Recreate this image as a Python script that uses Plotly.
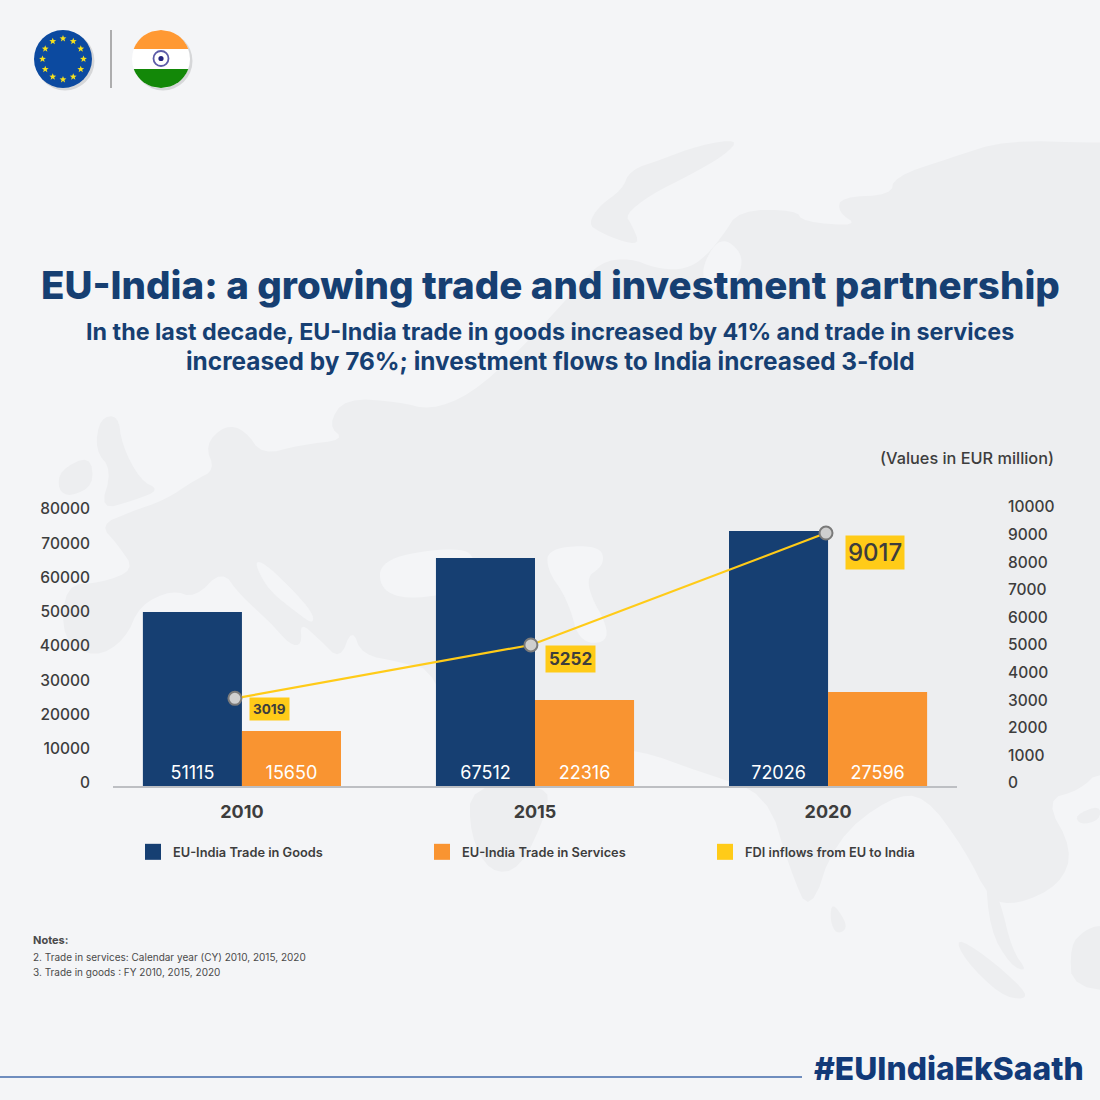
import numpy as np
import plotly.graph_objects as go

# ---- data ----
years = ["2010", "2015", "2020"]
slots = [0, 1, 2]
goods_labels = [51115, 67512, 72026]
services_labels = [15650, 22316, 27596]
fdi_labels = [3019, 5252, 9017]
# heights as actually drawn in the reference
goods_drawn = [50800, 66570, 74450]
services_drawn = [16050, 25100, 27450]
fdi_drawn = [3030, 4965, 9020]
fdi_slots = [-0.024, 0.986, 1.993]
left_ticks = [0, 10000, 20000, 30000, 40000, 50000, 60000, 70000, 80000]
right_ticks = [0, 1000, 2000, 3000, 4000, 5000, 6000, 7000, 8000, 9000, 10000]

series_names = ["EU-India Trade in Goods", "EU-India Trade in Services", "FDI inflows from EU to India"]
title = "EU-India: a growing trade and investment partnership"
subtitle_1 = "In the last decade, EU-India trade in goods increased by 41% and trade in services"
subtitle_2 = "increased by 76%; investment flows to India increased 3-fold"
notes_head = "<b>Notes:</b>"
note_1 = "2. Trade in services: Calendar year (CY) 2010, 2015, 2020"
note_2 = "3. Trade in goods : FY 2010, 2015, 2020"

NAVY = "#163F72"
ORANGE = "#F99431"
YELLOW = "#FFCB18"
INK = "#3D3D3D"
BG = "#F4F5F7"
LAND = "#EDEEF0"
FONT = "Inter"


def px(x):
    return x / 1100


def py(y):
    return 1 - y / 1100


def smooth(points, rounds=2):
    """round off the corners of a closed outline"""
    pts = list(points)
    for _ in range(rounds):
        out = []
        for i, (x0, y0) in enumerate(pts):
            x1, y1 = pts[(i + 1) % len(pts)]
            out.append((0.75 * x0 + 0.25 * x1, 0.75 * y0 + 0.25 * y1))
            out.append((0.25 * x0 + 0.75 * x1, 0.25 * y0 + 0.75 * y1))
        pts = out
    return pts


def poly(points, fill, line=None, width=0, layer="below"):
    d = "M" + " L".join(f"{px(x):.5f},{py(y):.5f}" for x, y in points) + " Z"
    return dict(type="path", xref="paper", yref="paper", path=d, fillcolor=fill, layer=layer,
                line=dict(color=line or fill, width=width))


def circle(cx, cy, r, fill, line=None, width=0, opacity=1):
    return dict(type="circle", xref="paper", yref="paper", x0=px(cx - r), x1=px(cx + r),
                y0=py(cy + r), y1=py(cy - r), fillcolor=fill, opacity=opacity, layer="below",
                line=dict(color=line or fill, width=width))


def band(cx, cy, r, y0, y1):
    """part of a disc between two horizontal lines"""
    ys = np.linspace(y0, y1, 14)
    right = [(cx + np.sqrt(max(r**2 - (y - cy) ** 2, 0)), y) for y in ys]
    left = [(cx - np.sqrt(max(r**2 - (y - cy) ** 2, 0)), y) for y in ys[::-1]]
    return right + left


def star(cx, cy, r):
    pts = []
    for i in range(10):
        a = -np.pi / 2 + i * np.pi / 5
        rr = r if i % 2 == 0 else r * 0.42
        pts.append((cx + rr * np.cos(a), cy + rr * np.sin(a)))
    return pts


shapes = []

# faint world map behind everything (decoration)
land = [
    # Scandinavia
    [(739, 139), (700, 145), (660, 160), (630, 170), (622, 190), (600, 205), (588, 224), (600, 232), (618, 240), (640, 245), (632, 225), (625, 215), (650, 195), (690, 175), (725, 155)],
    # Eurasia, clockwise from the north-east corner
    [(1250, 143), (1100, 143), (1006, 140), (950, 158), (894, 177), (891, 195), (841, 197), (838, 212), (859, 226), (803, 222), (796, 210), (739, 210), (722, 237), (700, 262), (680, 270), (655, 268), (630, 258), (600, 262), (575, 290),
     (520, 350), (470, 395), (430, 410), (400, 402), (345, 398), (328, 425), (345, 440), (300, 445), (262, 455), (245, 430), (225, 425), (205, 445), (215, 470), (195, 480), (165, 500), (130, 512), (100, 525), (118, 545), (135, 570), (100, 583), (65, 585), (62, 640), (95, 658), (125, 640), (140, 605), (172, 590), (195, 598), (222, 570),
     (240, 595), (270, 622), (290, 645), (302, 645), (300, 622), (320, 640), (340, 660), (352, 628), (362, 655), (400, 662), (437, 672), (470, 790), (547, 790), (570, 745), (640, 750), (700, 772), (767, 793), (790, 870), (810, 915), (835, 840), (890, 797), (925, 795), (965, 850), (990, 900), (1017, 905), (1060, 885), (1073, 850), (1045, 800), (1080, 790), (1100, 770), (1250, 770)],
    # Arabia
    [(470, 785), (547, 785), (548, 810), (520, 870), (490, 873), (470, 835)],
    # Great Britain
    [(100, 418), (118, 415), (122, 445), (140, 480), (160, 490), (135, 500), (100, 510), (112, 470), (95, 450)],
    # Ireland
    [(60, 470), (90, 455), (94, 485), (70, 497), (58, 490)],
    # Sri Lanka
    [(832, 902), (845, 920), (846, 930), (836, 934), (830, 920)],
    # Sumatra
    [(955, 937), (985, 955), (1025, 990), (1025, 1000), (1000, 995), (965, 960)],
    # Malay peninsula
    [(985, 870), (1000, 900), (1012, 950), (1028, 972), (1010, 965), (990, 930)],
    # Islands, lower right
    [(1070, 945), (1085, 930), (1100, 925), (1150, 925), (1150, 990), (1072, 990)],
    [(1075, 815), (1100, 805), (1100, 820), (1080, 825)],
]
for p in land:
    shapes.append(poly(smooth(p), LAND))
# inland seas, painted over the land
seas = [
    [(253, 560), (268, 565), (312, 610), (314, 625), (296, 612), (268, 590)],                  # Adriatic
    [(380, 560), (440, 548), (478, 552), (465, 590), (410, 600), (380, 590)],                  # Black Sea
    [(548, 548), (600, 545), (605, 565), (582, 580), (615, 640), (580, 645), (568, 600), (547, 570)],  # Caspian
    [(700, 270), (720, 235), (745, 255), (735, 285), (710, 290)],                              # Gulf of Ob
]
for p in seas:
    shapes.append(poly(smooth(p, 3), BG))

# EU flag
shapes.append(circle(65, 61, 29.5, "#000000", opacity=0.12))
shapes.append(circle(63, 59, 29, "#0C4AA0"))
for i in range(12):
    a = i * np.pi / 6
    shapes.append(poly(star(63 + 20.5 * np.sin(a), 59 - 20.5 * np.cos(a), 3.6), "#F7E11C"))
# divider
shapes.append(dict(type="line", xref="paper", yref="paper", x0=px(111), x1=px(111), y0=py(30), y1=py(88),
                   layer="below", line=dict(color="#9B9B9B", width=1.6)))
# India flag
shapes.append(circle(163, 61, 29.5, "#000000", opacity=0.12))
shapes.append(circle(161, 59, 29, "#FFFFFF"))
shapes.append(poly(band(161, 59, 29, 30, 49), "#FF9933"))
shapes.append(poly(band(161, 59, 29, 69, 88), "#138808"))
shapes.append(circle(161, 58.5, 7.5, "#FFFFFF", "#5C5CA8", 1.8))
shapes.append(circle(161, 58.5, 2.6, "#24247E"))

# footer rule
shapes.append(dict(type="line", xref="paper", yref="paper", x0=0, x1=px(802), y0=py(1077), y1=py(1077),
                   layer="below", line=dict(color="#6F8DBE", width=2)))

fig = go.Figure()
fig.add_trace(go.Bar(x=slots, y=goods_drawn, name=series_names[0], marker=dict(color=NAVY, line=dict(width=0)),
                     text=goods_labels, textposition="inside", insidetextanchor="start", textangle=0,
                     insidetextfont=dict(color="white", size=18, family=FONT), showlegend=False))
fig.add_trace(go.Bar(x=slots, y=services_drawn, name=series_names[1], marker=dict(color=ORANGE, line=dict(width=0)),
                     text=services_labels, textposition="inside", insidetextanchor="start", textangle=0,
                     insidetextfont=dict(color="white", size=18, family=FONT), showlegend=False))
fig.add_trace(go.Scatter(x=fdi_slots, y=fdi_drawn, yaxis="y2", name=series_names[2], mode="lines+markers",
                         line=dict(color=YELLOW, width=2.2),
                         marker=dict(size=13, color="#CFCFCF", line=dict(color="#7A7A7A", width=2)),
                         showlegend=False))

# legend keys: one legend per entry so that each sits at its own place
for i, (name, col) in enumerate(zip(series_names, [NAVY, ORANGE, YELLOW])):
    fig.add_trace(go.Scatter(x=[None], y=[None], name=name, mode="markers", legend=f"legend{i + 1 if i else ''}",
                             marker=dict(symbol="square", size=16, color=col), showlegend=True))

legend_style = dict(orientation="h", yanchor="middle", xanchor="left", y=py(852), bgcolor="rgba(0,0,0,0)",
                    font=dict(family=FONT, size=12.8, color=INK, weight=600), itemclick=False, itemdoubleclick=False)

annotations = [
    dict(text=title, x=0.5, y=py(285), font=dict(family=FONT, size=38.5, color=NAVY, weight=800)),
    dict(text=subtitle_1, x=0.5, y=py(331), font=dict(family=FONT, size=23.3, color=NAVY, weight=700)),
    dict(text=subtitle_2, x=0.5, y=py(361), font=dict(family=FONT, size=24.4, color=NAVY, weight=700)),
    dict(text="(Values in EUR million)", x=px(1056), y=py(458), xanchor="right",
         font=dict(family=FONT, size=16.3, color=INK, weight=500)),
    dict(text=notes_head, x=px(31), y=py(940), xanchor="left", font=dict(family=FONT, size=11, color="#4A4A4A")),
    dict(text=note_1, x=px(31), y=py(957), xanchor="left", font=dict(family=FONT, size=10, color="#4A4A4A")),
    dict(text=note_2, x=px(31), y=py(972), xanchor="left", font=dict(family=FONT, size=10, color="#4A4A4A")),
    dict(text="#EUIndiaEkSaath", x=px(1086), y=py(1068), xanchor="right", font=dict(family=FONT, size=31.8, color="#123A78", weight=800)),
]
for a in annotations:
    a.update(xref="paper", yref="paper", showarrow=False)
    a.setdefault("xanchor", "center")
    a.setdefault("yanchor", "middle")

label_sizes = [13.5, 17, 24]
label_dx = [35, 40, 48.5]
label_dy = [-11, -14.5, -19]
label_pad = [3, 3, 2]
for x, y, t, s, dx, dy, pad in zip(fdi_slots, fdi_drawn, fdi_labels, label_sizes, label_dx, label_dy, label_pad):
    annotations.append(dict(text=str(t), x=x, y=y, xref="x", yref="y2", showarrow=False, xshift=dx, yshift=dy,
                            bgcolor=YELLOW, borderpad=pad,
                            font=dict(family=FONT, size=s, color=INK, weight=700 if s < 20 else 500)))

fig.update_layout(
    width=1100, height=1100, margin=dict(l=0, r=0, t=0, b=0, autoexpand=False), autosize=False,
    paper_bgcolor=BG, plot_bgcolor="rgba(0,0,0,0)",
    barmode="group", bargap=0.324, bargroupgap=0,
    font=dict(family=FONT, color=INK),
    shapes=shapes, annotations=annotations,
    legend=dict(x=px(133), **legend_style),
    legend2=dict(x=px(422), **legend_style),
    legend3=dict(x=px(705), **legend_style),
    xaxis=dict(domain=[px(113), px(957)], range=[-0.44, 2.44], tickmode="array", tickvals=slots, ticktext=years,
               showgrid=False, zeroline=False, showline=True, linecolor="#BDBFC3", linewidth=2, ticks="",
               tickfont=dict(family=FONT, size=18, color=INK, weight=700), ticklabelstandoff=8),
    yaxis=dict(domain=[py(786), py(500)], range=[0, 83504], tickmode="array", tickvals=left_ticks, tickformat="d",
               showgrid=False, zeroline=False, showline=False, ticks="", ticklabelstandoff=22, ticklabelshift=-3,
               tickfont=dict(family=FONT, size=15.5, color=INK, weight=500), anchor="x"),
    yaxis2=dict(domain=[py(786), py(500)], range=[-145, 10217], tickmode="array", tickvals=right_ticks, tickformat="d",
                overlaying="y", side="right", showgrid=False, zeroline=False, showline=False, ticks="", ticklabelstandoff=50,
                ticklabelshift=1, tickfont=dict(family=FONT, size=15.5, color=INK, weight=500), anchor="x"),
)

fig.write_html("out.html", config=dict(displayModeBar=False),
               post_script="document.body.style.margin='0';document.body.style.overflow='hidden';")
